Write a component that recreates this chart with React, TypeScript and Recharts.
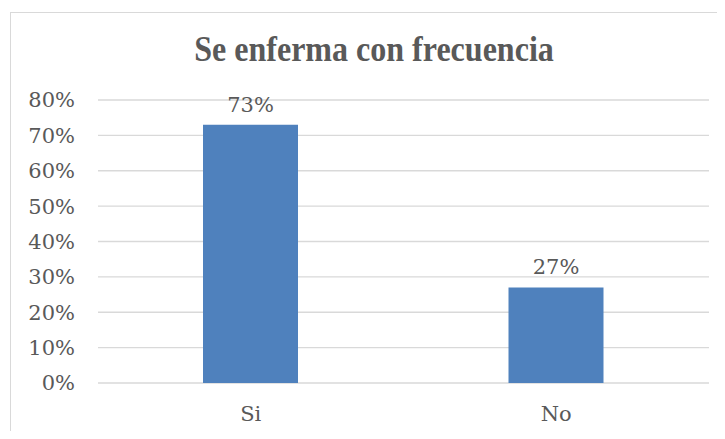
import React from 'react';
import { BarChart, Bar, XAxis, YAxis, CartesianGrid, LabelList } from 'recharts';

const categories = ['Si', 'No'];
const values = [0.73, 0.27];
const yTicks = [0, 0.1, 0.2, 0.3, 0.4, 0.5, 0.6, 0.7, 0.8];
const title = 'Se enferma con frecuencia';

const data = categories.map((name, i) => ({ name, value: values[i] }));

const pct = (v: number) => `${Math.round(v * 100)}%`;
const font = '"DejaVu Serif", serif';
const textColor = '#595959';

const App: React.FC = () => {
  return (
    <div style={{ position: 'relative', width: 725, height: 439, margin: -8, overflow: 'hidden', background: '#fff' }}>
      {/* outer chart frame */}
      <div style={{ position: 'absolute', left: 10, top: 12, width: 740, height: 460, border: '1.5px solid #D9D9D9' }} />
      <svg width={725} height={439} style={{ position: 'absolute', left: 0, top: 0 }}>
        <text
          transform="translate(374 61) scale(0.89 1)"
          textAnchor="middle"
          fontFamily='"Liberation Serif", serif'
          fontWeight="bold"
          fontSize={36}
          fill={textColor}
        >
          {title}
        </text>
      </svg>
      <div style={{ position: 'absolute', left: 0, top: 0 }}>
        <BarChart width={725} height={439} data={data} margin={{ top: 100, right: 16, bottom: 0, left: 10 }} barSize={95}>
          <CartesianGrid vertical={false} stroke="#D9D9D9" strokeWidth={1.3} horizontalValues={yTicks} />
          <XAxis
            dataKey="name"
            height={56}
            axisLine={false}
            tickLine={false}
            tickMargin={17}
            tick={{ fill: textColor, fontSize: 21, fontFamily: font }}
          />
          <YAxis
            width={88}
            domain={[0, 0.8]}
            ticks={yTicks}
            tickFormatter={pct}
            axisLine={false}
            tickLine={false}
            tickMargin={17}
            tick={{ fill: textColor, fontSize: 21, fontFamily: font }}
          />
          <Bar dataKey="value" fill="#4F81BD" isAnimationActive={false}>
            <LabelList dataKey="value" position="top" offset={13} formatter={(v: any) => pct(Number(v))} fill={textColor} fontSize={21} fontFamily={font} />
          </Bar>
        </BarChart>
      </div>
    </div>
  );
};

export default App;
